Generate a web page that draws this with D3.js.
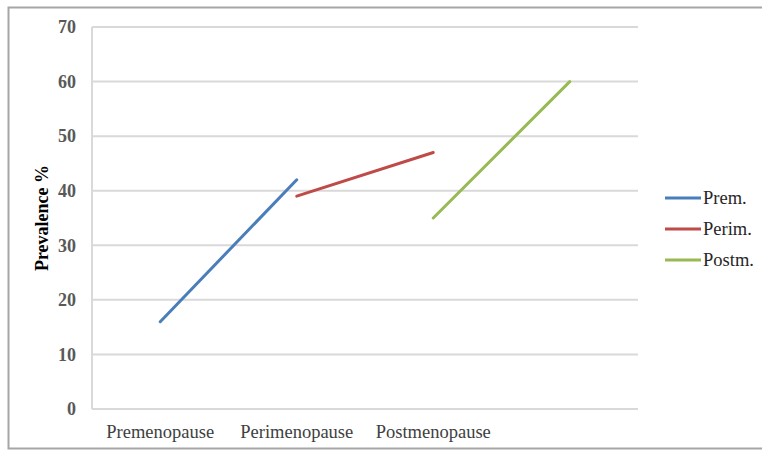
<!DOCTYPE html>
<html>
<head>
<meta charset="utf-8">
<script src="https://cdn.jsdelivr.net/npm/d3@7"></script>
<style>
  body { margin: 0; background: #fff; }
  text { font-family: "Liberation Serif", "DejaVu Serif", serif; }
</style>
</head>
<body>
<div id="chart"></div>
<script>
var categories = ["Premenopause", "Perimenopause", "Postmenopause", ""];
var prem = [16, 42, null, null];
var perim = [null, 39, 47, null];
var postm = [null, null, 35, 60];
var seriesNames = ["Prem.", "Perim.", "Postm."];
var yTicks = [0, 10, 20, 30, 40, 50, 60, 70];

var colors = ["#4a7ebb", "#be4b48", "#98b954"];
var series = [prem, perim, postm];

var width = 762, height = 451;
var plotLeft = 92, plotRight = 638, plotTop = 27, plotBottom = 409;

var svg = d3.select("#chart").append("svg")
  .attr("width", width)
  .attr("height", height);

// outer frame
svg.append("rect")
  .attr("x", 8.5).attr("y", 7.5)
  .attr("width", 770).attr("height", 441)
  .attr("fill", "#fff")
  .attr("stroke", "#a6a6a6")
  .attr("stroke-width", 2);

var x = d3.scaleBand().domain(categories).range([plotLeft, plotRight]);
var y = d3.scaleLinear().domain([0, 70]).range([plotBottom, plotTop]);

// gridlines
svg.append("g")
  .selectAll("line")
  .data(yTicks.slice(1))
  .enter().append("line")
  .attr("x1", plotLeft).attr("x2", plotRight)
  .attr("y1", d => y(d)).attr("y2", d => y(d))
  .attr("stroke", "#d9d9d9")
  .attr("stroke-width", 2);

// axis lines
svg.append("line")
  .attr("x1", plotLeft).attr("x2", plotLeft)
  .attr("y1", plotTop).attr("y2", plotBottom)
  .attr("stroke", "#d9d9d9").attr("stroke-width", 2);
svg.append("line")
  .attr("x1", plotLeft).attr("x2", plotRight)
  .attr("y1", plotBottom).attr("y2", plotBottom)
  .attr("stroke", "#d9d9d9").attr("stroke-width", 2);

// y tick labels
svg.append("g")
  .selectAll("text")
  .data(yTicks)
  .enter().append("text")
  .attr("x", 76)
  .attr("y", d => y(d))
  .attr("dy", "0.35em")
  .attr("text-anchor", "end")
  .attr("font-size", 18)
  .attr("font-weight", "bold")
  .attr("fill", "#595959")
  .text(d => d);

// category labels
svg.append("g")
  .selectAll("text")
  .data(categories)
  .enter().append("text")
  .attr("x", d => x(d) + x.bandwidth() / 2)
  .attr("y", 438)
  .attr("text-anchor", "middle")
  .attr("font-size", 18.5)
  .attr("fill", "#404040")
  .text(d => d);

// y title
svg.append("text")
  .attr("transform", "translate(48,218) rotate(-90)")
  .attr("text-anchor", "middle")
  .attr("font-size", 18)
  .attr("font-weight", "bold")
  .attr("fill", "#000")
  .text("Prevalence %");

var line = d3.line()
  .defined(d => d.v != null)
  .x(d => x(d.c) + x.bandwidth() / 2)
  .y(d => y(d.v));

series.forEach(function(s, i) {
  var pts = s.map((v, j) => ({c: categories[j], v: v}));
  svg.append("path")
    .attr("d", line(pts))
    .attr("fill", "none")
    .attr("stroke", colors[i])
    .attr("stroke-width", 3)
    .attr("stroke-linecap", "round");
});

// legend
var lg = svg.append("g").attr("transform", "translate(665,198)");
seriesNames.forEach(function(n, i) {
  var row = lg.append("g").attr("transform", "translate(0," + (i * 31) + ")");
  row.append("line")
    .attr("x1", 0).attr("x2", 36)
    .attr("stroke", colors[i])
    .attr("stroke-width", 3);
  row.append("text")
    .attr("x", 38)
    .attr("dy", "0.35em")
    .attr("font-size", 18.5)
    .attr("fill", "#262626")
    .text(n);
});
</script>
</body>
</html>
